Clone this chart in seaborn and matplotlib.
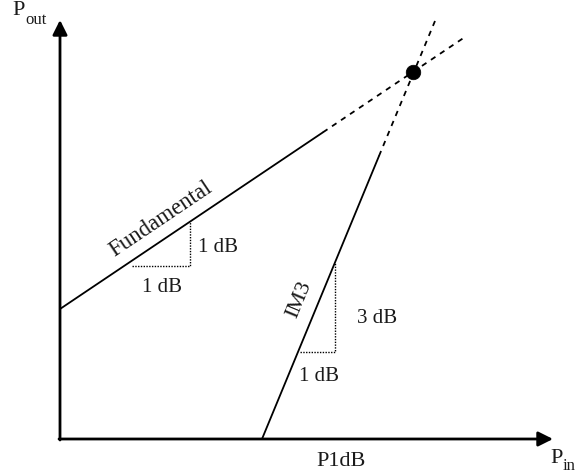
import matplotlib
matplotlib.use("Agg")
import matplotlib.pyplot as plt
import seaborn as sns

sns.set_theme(style="white")
plt.rcParams['font.family'] = ['Liberation Serif', 'DejaVu Serif']

# Data (schematic units)
fund_pin_solid = [0, 263]
fund_pout_solid = [130, 306.7]
fund_pin_dash = [263, 405]
fund_pout_dash = [306.7, 402]
im3_pin_solid = [202, 319]
im3_pout_solid = [0, 283]
im3_pin_dash = [319, 375]
im3_pout_dash = [283, 418]
ip3_pin = [353]
ip3_pout = [367]
fund_tri_x = [72, 130, 130]
fund_tri_y = [173, 173, 217.4]
im3_tri_x = [240, 275, 275]
im3_tri_y = [87, 87, 176.7]

fig = plt.figure(figsize=(5.76, 4.77), dpi=100)
ax = fig.add_axes([0, 0, 1, 1])
ax.set_xlim(-60, 516)
ax.set_ylim(-37, 440)
ax.axis('off')

lw = 1.3
common = dict(ax=ax, color='black', sort=False, estimator=None)
sns.lineplot(x=fund_pin_solid, y=fund_pout_solid, lw=lw, **common)
sns.lineplot(x=fund_pin_dash, y=fund_pout_dash, lw=lw, linestyle=(0, (3, 3)), **common)
sns.lineplot(x=im3_pin_solid, y=im3_pout_solid, lw=lw, **common)
sns.lineplot(x=im3_pin_dash, y=im3_pout_dash, lw=lw, linestyle=(0, (3, 3)), **common)
sns.lineplot(x=fund_tri_x, y=fund_tri_y, lw=1.0, linestyle=(0, (1, 1)), **common)
sns.lineplot(x=im3_tri_x, y=im3_tri_y, lw=1.0, linestyle=(0, (1, 1)), **common)
sns.scatterplot(x=ip3_pin, y=ip3_pout, ax=ax, color='black', s=110, edgecolor='black',
                linewidth=0.5, zorder=5)

# axes arrows
ax.annotate('', xy=(0, 419), xytext=(0, -1),
            arrowprops=dict(arrowstyle='-|>', mutation_scale=22, lw=2, color='black',
                            shrinkA=0, shrinkB=0))
ax.annotate('', xy=(493, 0), xytext=(-1, 0),
            arrowprops=dict(arrowstyle='-|>', mutation_scale=22, lw=2, color='black',
                            shrinkA=0, shrinkB=0))

fs = 15
c = '#1a1a1a'
ax.text(101, 221, 'Fundamental', rotation=33.9, ha='center', va='center', fontsize=16.5,
        color=c, rotation_mode='anchor')
ax.text(158, 192, '1 dB', ha='center', va='center', fontsize=fs, color=c)
ax.text(102, 152, '1 dB', ha='center', va='center', fontsize=fs, color=c)
ax.text(239, 140, 'IM3', rotation=67.5, ha='center', va='center', fontsize=16, color=c,
        rotation_mode='anchor')
ax.text(317.5, 121, '3 dB', ha='center', va='center', fontsize=fs, color=c)
ax.text(259, 63, '1 dB', ha='center', va='center', fontsize=fs, color=c)
ax.text(281, -22, 'P1dB', ha='center', va='center', fontsize=16, color=c)
ax.text(-41.5, 429.5, 'P', ha='center', va='center', fontsize=16, color=c)
ax.text(-35, 420, 'out', ha='left', va='center', fontsize=12, color=c)
ax.text(497, -18.5, 'P', ha='center', va='center', fontsize=16, color=c)
ax.text(503, -26, 'in', ha='left', va='center', fontsize=12, color=c)

fig.savefig('out.png', dpi=100)
